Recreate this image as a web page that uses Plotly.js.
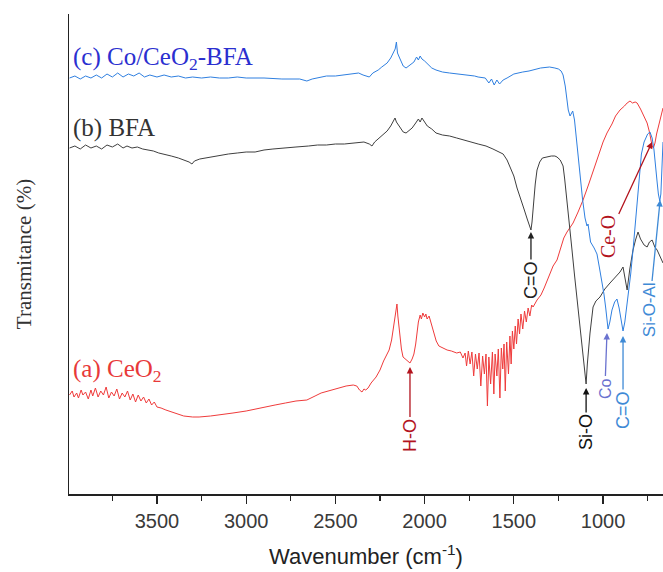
<!DOCTYPE html>
<html>
<head>
<meta charset="utf-8">
<script src="https://cdn.plot.ly/plotly-3.0.1.min.js"></script>
<style>html,body{margin:0;padding:0;background:#fff;}#chart{width:663px;height:572px;}</style>
</head>
<body>
<div id="chart"></div>
<script>
// ---- Data (wavenumber in cm-1, transmittance in arbitrary offset units) ----
const seriesNames = ["(a) CeO<sub>2</sub>", "(b) BFA", "(c) Co/CeO<sub>2</sub>-BFA"];

const ceo2Wn = [3990,3975,3965,3950,3940,3925,3915,3900,3885,3870,3860,3845,3830,3815,3800,3785,3770,3755,3740,3725,3710,3695,3680,3665,3650,3635,3620,3605,3590,3575,3560,3545,3530,3515,3500,3477,3450,3420,3390,3350,3300,3264,3200,3150,3074,3000,2950,2900,2838,2780,2721,2660,2640,2614,2580,2560,2520,2485,2440,2400,2380,2365,2351,2340,2330,2317,2300,2272,2250,2230,2210,2199,2185,2175,2166,2160,2155,2150,2140,2130,2121,2100,2082,2070,2060,2050,2043,2035,2025,2018,2010,2000,1993,1986,1975,1965,1950,1935,1920,1900,1874,1850,1820,1800,1785,1773,1765,1755,1745,1735,1725,1715,1705,1695,1685,1675,1665,1656,1648,1640,1630,1620,1612,1605,1595,1587,1578,1570,1562,1555,1548,1540,1530,1522,1515,1508,1500,1492,1485,1476,1468,1460,1450,1440,1430,1420,1410,1400,1392,1370,1348,1330,1314,1297,1280,1258,1240,1220,1202,1185,1168,1140,1112,1080,1050,1034,1017,1000,978,950,930,905,880,865,849,835,820,809,790,770,753,740,732,725,718,709,700,690,680,670,664];
const ceo2T  = [99,103,97,101,96,104,99,102,95,104,98,106,97,103,99,107,96,102,98,105,95,101,97,103,94,100,92,99,93,97,91,95,89,92,87,86,84,82,80,78,77,77,78,79,81,83,85,87,89,91,93,94,96,98,101,102,104,106,108,109,108,104,102,105,104,106,111,117,124,133,140,144,154,166,177,186,190,178,160,145,137,134,131,135,140,150,160,172,179,175,181,177,180,175,178,172,162,153,148,146,144,143,141,142,136,141,128,143,130,142,118,140,125,141,108,138,120,140,88,137,110,142,100,140,118,145,96,146,125,150,103,152,120,158,130,163,145,168,150,175,160,180,165,183,172,186,178,189,187,194,199,206,213,220,228,234,245,256,262,266,271,282,294,310,326,334,344,352,361,370,378,384,388,391,393,391,392,391,385,378,371,362,354,348,346,351,360,368,376,382,386];

const bfaWn = [3990,3960,3930,3900,3870,3840,3810,3780,3750,3720,3690,3668,3640,3610,3580,3550,3520,3490,3460,3420,3380,3350,3320,3304,3290,3260,3200,3150,3100,3050,3000,2950,2900,2850,2800,2721,2650,2600,2550,2500,2450,2400,2368,2340,2310,2295,2280,2260,2240,2210,2190,2175,2166,2158,2150,2135,2120,2104,2090,2070,2050,2035,2025,2015,2000,1985,1960,1936,1900,1860,1820,1773,1740,1700,1656,1617,1590,1560,1538,1515,1500,1482,1460,1443,1425,1412,1404,1398,1392,1380,1370,1355,1340,1314,1290,1270,1258,1240,1230,1224,1215,1202,1188,1174,1160,1146,1132,1118,1106,1095,1088,1073,1056,1040,1017,990,961,930,905,888,878,865,850,832,818,804,790,770,753,740,725,710,697,680,664];
const bfaT  = [346,348,345,349,346,348,345,349,347,350,346,348,346,347,345,344,343,341,340,338,336,334,332,330,333,335,337,338,340,341,342,342,344,345,346,347,348,349,349,350,350,351,352,352,350,348,352,355,358,363,368,373,376,372,370,366,362,361,363,366,371,375,372,376,372,368,365,361,359,358,356,354,352,350,348,345,343,340,334,325,318,306,295,285,275,267,264,272,287,310,324,332,336,337,338,338,337,334,331,328,315,294,265,244,219,194,169,144,125,110,130,161,187,193,197,205,211,217,222,227,218,204,225,244,254,262,255,249,247,252,254,247,244,238,231];

const cobfaWn = [3990,3960,3930,3900,3870,3840,3810,3780,3750,3720,3690,3660,3630,3600,3570,3540,3500,3460,3420,3380,3340,3300,3250,3200,3150,3100,3050,3000,2900,2800,2700,2660,2630,2600,2550,2500,2450,2400,2370,2345,2330,2310,2290,2260,2240,2210,2190,2175,2165,2158,2152,2140,2120,2104,2080,2060,2045,2035,2025,2015,2000,1980,1960,1936,1900,1860,1800,1773,1720,1700,1660,1640,1625,1610,1595,1580,1560,1538,1500,1450,1415,1350,1300,1270,1250,1235,1224,1212,1202,1195,1185,1178,1170,1160,1150,1140,1129,1115,1101,1090,1084,1078,1070,1050,1034,1020,1006,995,985,978,972,962,950,935,922,910,898,888,878,868,860,845,832,815,800,785,770,750,737,725,715,705,697,690,682,676,670,664];
const cobfaT  = [416,418,415,418,416,419,416,420,417,421,417,420,418,421,417,419,417,419,417,418,416,417,416,417,416,416,417,416,416,415,415,413,415,416,418,418,419,420,421,419,418,417,421,424,427,431,436,441,445,452,441,436,428,426,429,432,437,434,438,435,433,429,426,424,422,421,420,419,418,417,416,411,415,409,414,410,414,416,420,422,423,426,427,426,425,423,419,408,394,384,378,381,383,374,355,340,317,295,276,268,270,262,252,246,240,226,212,200,186,175,165,172,184,192,195,186,172,163,172,186,194,220,244,280,315,340,352,360,362,356,345,330,312,300,293,300,325,352];

// x-axis ticks
const tickVals = [3500, 3000, 2500, 2000, 1500, 1000];
const tickText = ["3500", "3000", "2500", "2000", "1500", "1000"];
const minorTickVals = [3750, 3250, 2750, 2250, 1750, 1250, 750];

// peak labels: [text, wavenumber, transmittance at arrow tip]
const peakText = ["H-O", "C=O", "Si-O", "Co", "C=O", "Si-O-Al", "Ce-O"];
const peakWn   = [2082, 1404, 1095, 978, 888, 680, 725];
const peakT    = [127, 262, 106, 161, 158, 294, 352];

// ---- Traces ----
const colRed = "#ef3b3b", colGray = "#3f3f3f", colBlue = "#2f7fe0";
const traces = [
  {x: ceo2Wn, y: ceo2T, name: seriesNames[0], type: "scatter", mode: "lines", line: {color: colRed, width: 1}},
  {x: bfaWn, y: bfaT, name: seriesNames[1], type: "scatter", mode: "lines", line: {color: colGray, width: 1}},
  {x: cobfaWn, y: cobfaT, name: seriesNames[2], type: "scatter", mode: "lines", line: {color: colBlue, width: 1}}
];

const serif = "Liberation Serif, Times New Roman, serif";
const sans = "Liberation Sans, Arial, sans-serif";

const annotations = [
  // series labels
  {x: 3980, y: 436, text: seriesNames[2], showarrow: false, xanchor: "left", yanchor: "middle", font: {family: serif, size: 25, color: "#2b2fd0"}},
  {x: 3984, y: 366, text: seriesNames[1], showarrow: false, xanchor: "left", yanchor: "middle", font: {family: serif, size: 25, color: "#333333"}},
  {x: 3984, y: 124, text: seriesNames[0], showarrow: false, xanchor: "left", yanchor: "middle", font: {family: serif, size: 25, color: "#e8393a"}},
];

// peak annotation styles (arrow tail = text centre, offsets in px)
const peakStyle = [
  {color: "#b3141e", ax: 0, ay: 68, font: sans, size: 18},
  {color: "#222222", ax: 0, ay: 48, font: sans, size: 18},
  {color: "#111111", ax: 0, ay: 44, font: sans, size: 18},
  {color: "#6a72cf", ax: -2, ay: 55, font: sans, size: 16},
  {color: "#3f8ad6", ax: 0, ay: 74, font: sans, size: 18},
  {color: "#3f8ad6", ax: -11, ay: 110, font: sans, size: 17},
  {color: "#b3141e", ax: -44, ay: 95, font: serif, size: 20},
];
for (let i = 0; i < peakText.length; i++) {
  const s = peakStyle[i];
  annotations.push({x: peakWn[i], y: peakT[i], text: peakText[i], textangle: -90, showarrow: true,
    arrowhead: 2, arrowsize: 1, arrowwidth: 1.3, arrowcolor: s.color, ax: s.ax, ay: s.ay,
    font: {family: s.font, size: s.size, color: s.color}});
}

const layout = {
  width: 663, height: 572,
  margin: {l: 69, r: 0, t: 14, b: 78, pad: 0},
  paper_bgcolor: "#ffffff", plot_bgcolor: "#ffffff",
  showlegend: false,
  xaxis: {
    range: [3993, 664], showgrid: false, zeroline: false,
    showline: true, linecolor: "#222", linewidth: 1.5,
    ticks: "outside", ticklen: 8, tickwidth: 1.3, tickcolor: "#222",
    tickvals: tickVals, ticktext: tickText,
    minor: {tickvals: minorTickVals, ticks: "outside", ticklen: 5, tickwidth: 1.3, tickcolor: "#222"},
    tickfont: {family: sans, size: 20, color: "#3a3a3a"},
    title: {text: "Wavenumber (cm<sup>-1</sup>)", font: {family: sans, size: 22, color: "#222"}, standoff: 18}
  },
  yaxis: {
    range: [0, 480], showgrid: false, zeroline: false,
    showline: true, linecolor: "#222", linewidth: 1.5,
    ticks: "", showticklabels: false,
    title: {text: "Transmitance (%)", font: {family: serif, size: 21, color: "#333"}, standoff: 30}
  },
  annotations: annotations
};

Plotly.newPlot("chart", traces, layout, {displayModeBar: false, staticPlot: true});
</script>
</body>
</html>
